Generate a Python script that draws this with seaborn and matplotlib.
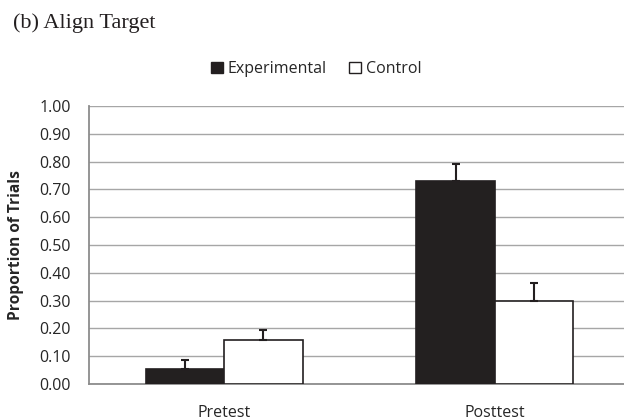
import matplotlib
matplotlib.use("Agg")
import matplotlib.pyplot as plt
from matplotlib.patches import Patch
import seaborn as sns
import pandas as pd
import numpy as np

# Proportion of trials with an "align target" response, by phase and group
phases = ["Pretest", "Posttest"]
groups = ["Experimental", "Control"]
experimental = [0.055, 0.73]
control = [0.16, 0.30]
experimental_err = [0.03, 0.06]
control_err = [0.035, 0.065]
y_ticks = [0.0, 0.1, 0.2, 0.3, 0.4, 0.5, 0.6, 0.7, 0.8, 0.9, 1.0]

df = pd.DataFrame({
    "phase": phases * 2,
    "group": [groups[0]] * 2 + [groups[1]] * 2,
    "value": experimental + control,
    "err": experimental_err + control_err,
})

sns.set_style("white")
plt.rcParams["font.family"] = ["Open Sans", "DejaVu Sans"]

fig = plt.figure(figsize=(6.24, 4.2), dpi=100)
ax = fig.add_axes([89 / 624, 36 / 420, 541 / 624, 278 / 420])

palette = {"Experimental": "#231f20", "Control": "#ffffff"}
sns.barplot(data=df, x="phase", y="value", hue="group", order=phases,
            hue_order=groups, palette=palette, width=0.58, gap=0,
            edgecolor="#231f20", linewidth=1.2, errorbar=None,
            legend=False, ax=ax, zorder=3)

# Upper-only error bars centred on each bar
for container, grp in zip(ax.containers, groups):
    sub = df[df["group"] == grp].set_index("phase").loc[phases]
    xs = [p.get_x() + p.get_width() / 2 for p in container.patches]
    ax.errorbar(xs, sub["value"], yerr=[np.zeros(len(xs)), sub["err"]],
                fmt="none", ecolor="#231f20", elinewidth=1.5, capsize=3,
                capthick=1.5, zorder=4)

ax.set_xlim(-0.5, 1.5)
ax.set_ylim(0, 1.0)
ax.set_yticks(y_ticks)
ax.set_yticklabels([f"{t:.2f}" for t in y_ticks])
ax.yaxis.grid(True, color="#a6a6a6", linewidth=1.0, zorder=0)
ax.set_axisbelow(True)

# Category labels sit between boundary ticks
ax.set_xticks([-0.5, 0.5, 1.5])
ax.set_xticklabels([])
ax.set_xticks([0, 1], minor=True)
ax.set_xticklabels(phases, minor=True)
ax.tick_params(axis="x", which="minor", length=0, pad=15, labelsize=11.5,
               labelcolor="#262626")
ax.tick_params(axis="x", which="major", length=5, width=1, color="#8c8c8c",
               direction="out")
ax.tick_params(axis="y", length=5, width=1, color="#8c8c8c", direction="out",
               labelsize=11.5, labelcolor="#262626", pad=8)

for side in ("top", "right"):
    ax.spines[side].set_visible(False)
for side in ("left", "bottom"):
    ax.spines[side].set_color("#8c8c8c")
    ax.spines[side].set_linewidth(1.3)

ax.set_xlabel("")
ax.set_ylabel("Proportion of Trials", fontsize=11.2, fontweight="bold",
              color="#262626", labelpad=11)

handles = [Patch(facecolor="#231f20", edgecolor="#231f20", label="Experimental"),
           Patch(facecolor="#ffffff", edgecolor="#231f20", label="Control")]
fig.legend(handles=handles, loc="center", bbox_to_anchor=(316 / 624, 1 - 69 / 420),
           ncol=2, frameon=False, fontsize=11.5, handlelength=0.75,
           handleheight=0.75, handletextpad=0.3, columnspacing=1.4,
           labelcolor="#262626")

fig.text(13 / 624, 1 - 23 / 420, "(b) Align Target", family="Liberation Serif",
         fontsize=16, color="#231f20", va="center", ha="left")

fig.savefig("out.png", dpi=100)
